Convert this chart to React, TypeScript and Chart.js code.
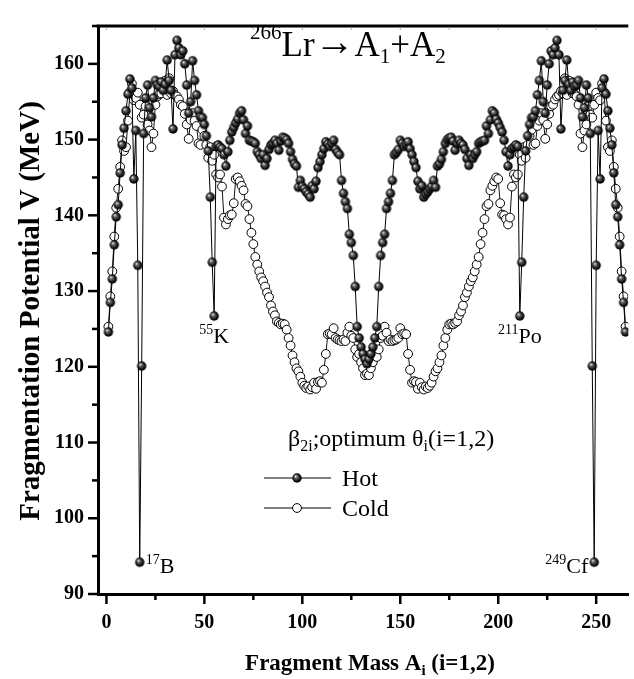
import React, { useEffect, useRef } from 'react';
import { Chart, registerables } from 'chart.js';

Chart.register(...registerables);

// Fragment mass numbers A = 1 .. 265
const massNumbers: number[] = Array.from({ length: 265 }, (_, i) => i + 1);

// Hot fragmentation potential, A = 1..133
const hotLeft = [
  124.6, 128.5, 131.6, 136.1, 139.8, 141.4, 145.6, 149.3, 151.5, 153.8,
  156.0, 158.0, 156.8, 144.8, 151.2, 133.4, 94.2, 120.1, 150.8, 155.5,
  157.2, 154.2, 153.0, 155.5, 157.8, 157.2, 157.0, 157.6, 156.5, 157.3,
  160.5, 157.8, 156.5, 151.4, 161.2, 163.1, 162.1, 161.2, 161.7, 160.0,
  157.2, 153.5, 155.0, 160.4, 157.8, 155.9, 153.8, 153.0, 152.9, 152.0,
  150.5, 148.5, 142.4, 133.8, 126.7, 149.1, 149.3, 149.0, 148.8, 148.0,
  146.5, 148.4, 149.9, 151.0, 151.6, 152.2, 152.7, 153.5, 153.8, 152.6,
  150.8, 151.8, 149.9, 149.8, 149.7, 149.5, 148.4, 148.0, 147.5, 148.0,
  146.6, 147.5, 148.7, 149.3, 149.5, 149.9, 149.5, 148.6, 149.8, 150.3,
  150.2, 150.0, 149.5, 148.4, 147.4, 146.8, 146.5, 143.7, 144.6, 143.8,
  143.5, 143.1, 142.8, 142.4, 143.9, 143.5, 144.5, 146.3, 147.1, 148.0,
  148.8, 149.7, 149.4, 149.1, 149.5, 149.9, 148.7, 148.3, 148.0, 144.6,
  142.9, 141.8, 140.9, 137.5, 136.4, 134.7, 130.6, 125.3, 123.8, 122.6,
  121.7, 121.0, 120.4,
];

// Hot fragmentation potential, A = 134..265
const hotRight = [
  121.0, 121.7, 122.6, 123.8, 125.3, 130.6, 134.7, 136.4, 137.5, 140.9,
  141.8, 142.9, 144.6, 148.0, 148.3, 148.7, 149.9, 149.5, 149.1, 149.4,
  149.7, 148.8, 148.0, 147.1, 146.3, 144.5, 143.5, 143.9, 142.4, 142.8,
  143.1, 143.5, 143.8, 144.6, 143.7, 146.5, 146.8, 147.4, 148.4, 149.5,
  150.0, 150.2, 150.3, 149.8, 148.6, 149.5, 149.9, 149.5, 149.3, 148.7,
  147.5, 146.6, 148.0, 147.5, 148.0, 148.4, 149.5, 149.7, 149.8, 149.9,
  151.8, 150.8, 152.6, 153.8, 153.5, 152.7, 152.2, 151.6, 151.0, 149.9,
  148.4, 146.5, 148.0, 148.8, 149.0, 149.3, 149.1, 126.7, 133.8, 142.4,
  148.5, 150.5, 152.0, 152.9, 153.0, 153.8, 155.9, 157.8, 160.4, 155.0,
  153.5, 157.2, 160.0, 161.7, 161.2, 162.1, 163.1, 161.2, 151.4, 156.5,
  157.8, 160.5, 157.3, 156.5, 157.6, 157.0, 157.2, 157.8, 155.5, 153.0,
  154.2, 157.2, 155.5, 150.8, 120.1, 94.2, 133.4, 151.2, 144.8, 156.8,
  158.0, 156.0, 153.8, 151.5, 149.3, 145.6, 141.4, 139.8, 136.1, 131.6,
  128.5, 124.6,
];

// Cold fragmentation potential, A = 1..133
const coldLeft = [
  125.3, 129.3, 132.6, 137.2, 141.0, 143.5, 146.4, 149.9, 148.5, 149.0,
  152.5, 156.3, 157.4, 155.2, 155.5, 156.2, 154.6, 152.9, 153.3, 154.4,
  152.0, 151.2, 149.0, 150.8, 154.6, 155.7, 156.0, 156.1, 157.0, 157.8,
  155.9, 158.1, 156.1, 156.4, 155.9, 155.7, 155.3, 154.6, 154.4, 153.4,
  152.0, 150.1, 152.6, 153.5, 152.5, 151.8, 149.5, 149.3, 151.3, 150.5,
  149.3, 147.6, 149.0, 147.2, 148.0, 145.4, 145.0, 145.4, 143.8, 139.7,
  138.8, 139.5, 140.0, 140.1, 141.6, 144.8, 145.0, 144.5, 143.9, 143.3,
  141.5, 141.2, 139.5, 137.7, 136.2, 134.5, 133.5, 132.6, 131.8, 131.3,
  130.6, 129.8, 129.2, 128.1, 127.3, 126.8, 126.0, 125.8, 125.6, 125.7,
  125.6, 124.9, 123.8, 122.8, 121.5, 120.6, 119.8, 119.4, 118.7, 117.9,
  117.5, 117.2, 117.4, 117.0, 117.3, 117.9, 117.1, 118.0, 118.1, 117.9,
  119.6, 121.7, 124.3, 124.4, 124.3, 125.1, 123.8, 123.6, 123.5, 123.4,
  123.6, 123.4, 124.5, 125.3, 124.1, 123.8, 122.3, 121.3, 121.7, 120.6,
  119.8, 118.9, 119.1,
];

// Cold fragmentation potential, A = 134..265
const coldRight = [
  118.9, 119.8, 120.6, 121.7, 121.3, 122.3, 123.8, 124.1, 125.3, 124.5,
  123.4, 123.6, 123.4, 123.5, 123.6, 123.8, 125.1, 124.3, 124.4, 124.3,
  121.7, 119.6, 117.9, 118.1, 118.0, 117.1, 117.9, 117.3, 117.0, 117.4,
  117.2, 117.5, 117.9, 118.7, 119.4, 119.8, 120.6, 121.5, 122.8, 123.8,
  124.9, 125.6, 125.7, 125.6, 125.8, 126.0, 126.8, 127.3, 128.1, 129.2,
  129.8, 130.6, 131.3, 131.8, 132.6, 133.5, 134.5, 136.2, 137.7, 139.5,
  141.2, 141.5, 143.3, 143.9, 144.5, 145.0, 144.8, 141.6, 140.1, 140.0,
  139.5, 138.8, 139.7, 143.8, 145.4, 145.0, 145.4, 148.0, 147.2, 149.0,
  147.6, 149.3, 150.5, 151.3, 149.3, 149.5, 151.8, 152.5, 153.5, 152.6,
  150.1, 152.0, 153.4, 154.4, 154.6, 155.3, 155.7, 155.9, 156.4, 156.1,
  158.1, 155.9, 157.8, 157.0, 156.1, 156.0, 155.7, 154.6, 150.8, 149.0,
  151.2, 152.0, 154.4, 153.3, 152.9, 154.6, 156.2, 155.5, 155.2, 157.4,
  156.3, 152.5, 149.0, 148.5, 149.9, 146.4, 143.5, 141.0, 137.2, 132.6,
  129.3, 125.3,
];

const hotValues = [...hotLeft, ...hotRight];
const coldValues = [...coldLeft, ...coldRight];

const xTickLabels = [0, 50, 100, 150, 200, 250];
const yTickLabels = [90, 100, 110, 120, 130, 140, 150, 160];

const markedNuclei = [
  { mass: 17, sup: '17', sym: 'B' },
  { mass: 55, sup: '55', sym: 'K' },
  { mass: 211, sup: '211', sym: 'Po' },
  { mass: 249, sup: '249', sym: 'Cf' },
];

const FONT = "'Liberation Serif', 'Times New Roman', serif";

type Part = { t: string; size: number; dy?: number; bold?: boolean };

function drawRich(ctx: CanvasRenderingContext2D, x: number, y: number, parts: Part[], align: 'left' | 'center' | 'right' = 'left') {
  let total = 0;
  const widths: number[] = [];
  for (const p of parts) {
    ctx.font = `${p.bold ? 'bold ' : ''}${p.size}px ${FONT}`;
    const w = ctx.measureText(p.t).width;
    widths.push(w);
    total += w;
  }
  let cx = align === 'center' ? x - total / 2 : align === 'right' ? x - total : x;
  ctx.textAlign = 'left';
  ctx.textBaseline = 'alphabetic';
  parts.forEach((p, i) => {
    ctx.font = `${p.bold ? 'bold ' : ''}${p.size}px ${FONT}`;
    ctx.fillText(p.t, cx, y + (p.dy || 0));
    cx += widths[i];
  });
}

function makeSphere(r: number): HTMLCanvasElement {
  const size = Math.ceil(r * 2 + 2);
  const c = document.createElement('canvas');
  c.width = size;
  c.height = size;
  const g = c.getContext('2d')!;
  const m = size / 2;
  const grad = g.createRadialGradient(m - r * 0.35, m - r * 0.4, 0.2, m, m, r);
  grad.addColorStop(0, '#f2f2f2');
  grad.addColorStop(0.3, '#6a6a6a');
  grad.addColorStop(0.75, '#111');
  grad.addColorStop(1, '#000');
  g.fillStyle = grad;
  g.beginPath();
  g.arc(m, m, r, 0, Math.PI * 2);
  g.fill();
  return c;
}

export default function App() {
  const ref = useRef<HTMLCanvasElement | null>(null);

  useEffect(() => {
    if (!ref.current) return;
    const sphere = makeSphere(4.7);

    const decor = {
      id: 'decor',
      afterDraw(chart: any) {
        const { ctx, chartArea: a, scales } = chart;
        const xs = scales.x;
        const ys = scales.y;
        ctx.save();
        ctx.strokeStyle = '#000';
        ctx.fillStyle = '#000';
        // top frame line
        ctx.lineWidth = 3;
        ctx.beginPath();
        ctx.moveTo(a.left - 1.5, a.top);
        ctx.lineTo(a.right, a.top);
        ctx.stroke();
        // y ticks
        ctx.lineWidth = 2.5;
        for (let v = 90; v <= 165; v += 5) {
          const py = ys.getPixelForValue(v);
          const len = v % 10 === 0 ? 10 : 6;
          ctx.beginPath();
          ctx.moveTo(a.left - len, py);
          ctx.lineTo(a.left, py);
          ctx.stroke();
        }
        // x ticks
        for (let v = 0; v <= 250; v += 25) {
          const px = xs.getPixelForValue(v);
          const len = v % 50 === 0 ? 10 : 6;
          ctx.beginPath();
          ctx.moveTo(px, a.bottom);
          ctx.lineTo(px, a.bottom + len);
          ctx.stroke();
        }
        // faint top ticks
        ctx.strokeStyle = '#aaa';
        ctx.lineWidth = 1;
        for (let v = 0; v <= 250; v += 25) {
          const px = xs.getPixelForValue(v);
          ctx.beginPath();
          ctx.moveTo(px, a.top + 1.5);
          ctx.lineTo(px, a.top + 4);
          ctx.stroke();
        }
        ctx.strokeStyle = '#000';

        // axis titles
        drawRich(ctx, 370, 670, [
          { t: 'Fragment Mass A', size: 23, bold: true },
          { t: 'i', size: 15, bold: true, dy: 5 },
          { t: ' (i=1,2)', size: 23, bold: true },
        ], 'center');
        ctx.save();
        ctx.translate(39, 311);
        ctx.rotate(-Math.PI / 2);
        drawRich(ctx, 0, 0, [{ t: 'Fragmentation Potential V (MeV)', size: 29, bold: true }], 'center');
        ctx.restore();

        // main title
        drawRich(ctx, 250, 56, [
          { t: '266', size: 21, dy: -17 },
          { t: 'Lr', size: 35 },
          { t: '\u2192', size: 40, dy: -1 },
          { t: 'A', size: 35 },
          { t: '1', size: 21, dy: 7 },
          { t: '+A', size: 35 },
          { t: '2', size: 21, dy: 7 },
        ]);

        // legend
        drawRich(ctx, 288, 446, [
          { t: '\u03B2', size: 24 },
          { t: '2i', size: 16, dy: 5 },
          { t: ';optimum \u03B8', size: 24 },
          { t: 'i', size: 16, dy: 5 },
          { t: '(i=1,2)', size: 24 },
        ]);
        ctx.lineWidth = 1;
        ctx.beginPath();
        ctx.moveTo(264, 478);
        ctx.lineTo(331, 478);
        ctx.stroke();
        ctx.drawImage(sphere, 297 - sphere.width / 2, 478 - sphere.height / 2);
        ctx.beginPath();
        ctx.moveTo(264, 508);
        ctx.lineTo(331, 508);
        ctx.stroke();
        ctx.fillStyle = '#fff';
        ctx.beginPath();
        ctx.arc(297, 508, 4.4, 0, Math.PI * 2);
        ctx.fill();
        ctx.stroke();
        ctx.fillStyle = '#000';
        drawRich(ctx, 342, 486, [{ t: 'Hot', size: 24 }]);
        drawRich(ctx, 342, 516, [{ t: 'Cold', size: 24 }]);

        // nucleus annotations
        for (const n of markedNuclei) {
          const v = hotValues[n.mass - 1];
          const px = xs.getPixelForValue(n.mass);
          const py = ys.getPixelForValue(v);
          const parts: Part[] = [
            { t: n.sup, size: 14, dy: -9 },
            { t: n.sym, size: 22 },
          ];
          if (n.mass === 17) drawRich(ctx, px + 6, py + 11, parts, 'left');
          else if (n.mass === 249) drawRich(ctx, px - 6, py + 11, parts, 'right');
          else drawRich(ctx, px, py + 27, parts, 'center');
        }
        ctx.restore();
      },
    };

    const chart = new Chart(ref.current, {
      type: 'line',
      data: {
        datasets: [
          {
            label: 'Hot',
            data: hotValues.map((v, i) => ({ x: massNumbers[i], y: v })),
            borderColor: '#000',
            borderWidth: 1,
            pointStyle: sphere as any,
            pointRadius: 4.7,
            pointHoverRadius: 4.7,
            fill: false,
            tension: 0,
          },
          {
            label: 'Cold',
            data: coldValues.map((v, i) => ({ x: massNumbers[i], y: v })),
            borderColor: '#111',
            borderWidth: 1,
            pointStyle: 'circle',
            pointRadius: 4.4,
            pointBackgroundColor: '#fff',
            pointBorderColor: '#000',
            pointBorderWidth: 1,
            fill: false,
            tension: 0,
          },
        ],
      },
      options: {
        animation: false,
        responsive: false,
        maintainAspectRatio: false,
        events: [],
        layout: { padding: { top: 9, right: 0, left: 0, bottom: 0 } },
        plugins: {
          legend: { display: false },
          tooltip: { enabled: false },
          title: { display: false },
        },
        scales: {
          x: {
            type: 'linear',
            position: 'bottom',
            min: -4.3,
            max: 266.4,
            afterBuildTicks: (axis: any) => {
              axis.ticks = xTickLabels.map((v) => ({ value: v }));
            },
            afterFit: (scale: any) => {
              scale.height = 85;
            },
            grid: { display: false, drawTicks: false },
            border: { display: true, color: '#000', width: 3 },
            ticks: {
              color: '#000',
              padding: 17,
              maxRotation: 0,
              autoSkip: false,
              font: { family: FONT, size: 20, weight: 'bold' },
            },
          },
          y: {
            type: 'linear',
            position: 'left',
            min: 90,
            max: 165,
            afterBuildTicks: (axis: any) => {
              axis.ticks = yTickLabels.map((v) => ({ value: v }));
            },
            afterFit: (scale: any) => {
              scale.width = 98;
            },
            grid: { display: false, drawTicks: false },
            border: { display: true, color: '#000', width: 3 },
            ticks: {
              color: '#000',
              padding: 14,
              autoSkip: false,
              font: { family: FONT, size: 20, weight: 'bold' },
            },
          },
        },
      },
      plugins: [decor],
    } as any);

    return () => chart.destroy();
  }, []);

  return (
    <div style={{ position: 'absolute', left: 0, top: 0, width: 634, height: 679, background: '#fff' }}>
      <canvas ref={ref} width={634} height={679} style={{ display: 'block' }} />
    </div>
  );
}
